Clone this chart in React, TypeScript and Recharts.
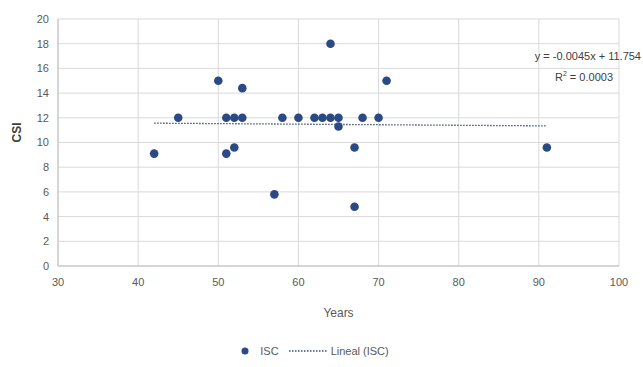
import React from 'react';
import {
  ScatterChart,
  Scatter,
  XAxis,
  YAxis,
  CartesianGrid,
  Legend,
} from 'recharts';

// Years (x) and CSI (y)
const years = [42, 45, 50, 51, 51, 52, 52, 53, 53, 57, 58, 60, 62, 63, 64, 65, 64, 65, 67, 67, 68, 70, 71, 91];
const csi = [9.1, 12, 15, 12, 9.1, 12, 9.6, 12, 14.4, 5.8, 12, 12, 12, 12, 12, 12, 18, 11.3, 9.6, 4.8, 12, 12, 15, 9.6];

const xTicks = [30, 40, 50, 60, 70, 80, 90, 100];
const yTicks = [0, 2, 4, 6, 8, 10, 12, 14, 16, 18, 20];

// linear trend as printed on the chart
const slope = -0.0045;
const intercept = 11.754;
const trendX = [42, 91];

const points = years.map((x, i) => ({ x, y: csi[i] }));
const trend = trendX.map((x) => ({ x, y: slope * x + intercept }));

const DOT = '#2a4a86';
const TREND = '#3b4f7a';
const FONT = '"Liberation Sans Narrow", "Liberation Sans", Arial, sans-serif';

const Dot = (props: any) => {
  const { cx, cy } = props;
  return <circle cx={cx} cy={cy} r={4.3} fill={DOT} />;
};

const LegendContent = () => (
  <div style={{ display: 'flex', justifyContent: 'center', alignItems: 'center', fontFamily: FONT, fontSize: 11, color: '#595959', paddingLeft: 10, paddingTop: 8 }}>
    <svg width={10} height={10} style={{ marginRight: 10 }}>
      <circle cx={5} cy={5} r={3.5} fill={DOT} />
    </svg>
    <span style={{ marginRight: 10 }}>ISC</span>
    <svg width={38} height={6} style={{ marginRight: 4 }}>
      <line x1={0} y1={3} x2={38} y2={3} stroke={TREND} strokeWidth={1.3} strokeDasharray="1.5 1.5" />
    </svg>
    <span>Lineal (ISC)</span>
  </div>
);

const App: React.FC = () => {
  return (
    <div style={{ position: 'absolute', left: 0, top: 0, width: 643, height: 367, background: '#fff' }}>
      <ScatterChart width={643} height={367} margin={{ top: 19, right: 24, left: 0, bottom: 0 }}>
        <CartesianGrid stroke="#d9d9d9" strokeWidth={1} />
        <XAxis
          type="number"
          dataKey="x"
          domain={[30, 100]}
          ticks={xTicks}
          height={71}
          tickLine={false}
          axisLine={{ stroke: '#bfbfbf' }}
          tick={{ fill: '#595959', fontSize: 11, fontFamily: FONT }}
          tickMargin={6}
          label={{ value: 'Years', position: 'insideTop', offset: 42, fill: '#595959', fontSize: 12, fontFamily: FONT }}
        />
        <YAxis
          type="number"
          dataKey="y"
          domain={[0, 20]}
          ticks={yTicks}
          width={58}
          tickLine={false}
          axisLine={{ stroke: '#bfbfbf' }}
          tick={{ fill: '#595959', fontSize: 11, fontFamily: FONT }}
          tickMargin={3}
          label={{ value: 'CSI', angle: -90, position: 'insideLeft', offset: 17, fill: '#404040', fontSize: 12, fontWeight: 'bold', fontFamily: FONT }}
        />
        <Legend verticalAlign="bottom" height={30} content={<LegendContent />} />
        <Scatter name="ISC" data={points} shape={<Dot />} isAnimationActive={false} />
        <Scatter
          name="Lineal (ISC)"
          data={trend}
          line={{ stroke: TREND, strokeWidth: 1.3, strokeDasharray: '1.5 1.5' }}
          shape={() => null}
          isAnimationActive={false}
        />
      </ScatterChart>
      <div style={{ position: 'absolute', left: 500, top: 47, width: 141, textAlign: 'right', fontFamily: FONT, fontSize: 11, color: '#404040', lineHeight: '18px' }}>
        <div>y = -0.0045x + 11.754</div>
        <div style={{ paddingRight: 28 }}>
          R<sup style={{ fontSize: 7 }}>2</sup> = 0.0003
        </div>
      </div>
    </div>
  );
};

export default App;
